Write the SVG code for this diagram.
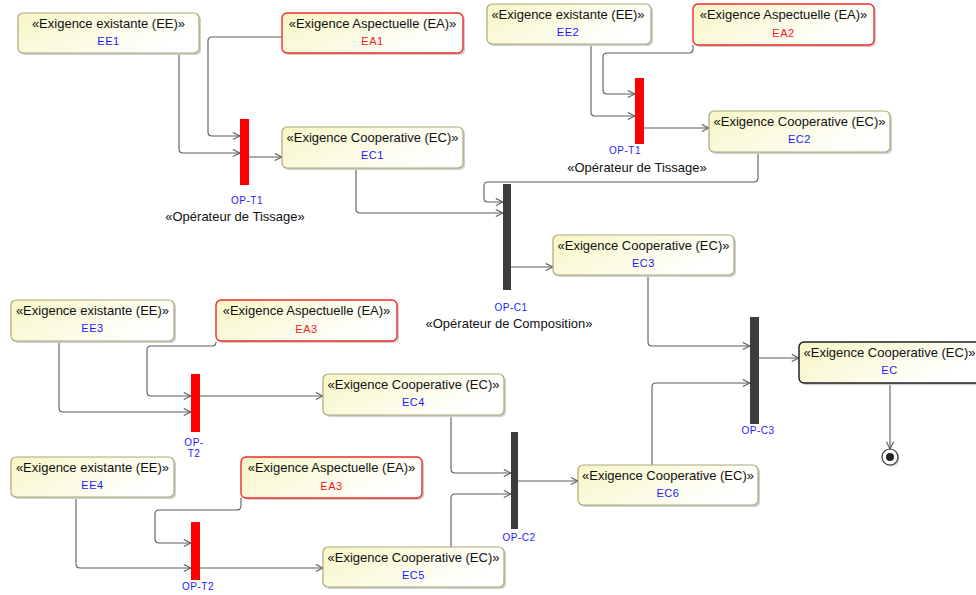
<svg xmlns="http://www.w3.org/2000/svg" width="976" height="595" viewBox="0 0 976 595">
<style>
.box{fill:url(#g);stroke:#aaa878;stroke-width:1.2}
.red{fill:url(#g);stroke:#ee2b2b;stroke-width:1.4}
.blk{fill:url(#g);stroke:#222;stroke-width:1.5}
.sh{fill:#cfcfcf}
.st{font-family:"Liberation Sans",Arial,sans-serif;font-size:13px;fill:#111;text-anchor:middle}
.nm{font-family:"Liberation Sans",Arial,sans-serif;font-size:11px;fill:#1a1aff;text-anchor:middle;letter-spacing:0.6px}
.nr{font-family:"Liberation Sans",Arial,sans-serif;font-size:11px;fill:#f01818;text-anchor:middle;letter-spacing:0.6px}
.op{font-family:"Liberation Sans",Arial,sans-serif;font-size:10px;fill:#1a1aff;text-anchor:middle;letter-spacing:0.5px}
.tb{fill:#ff0000}
.cb{fill:#3c3c3c}
.c path{fill:none;stroke:#5a5a5a;stroke-width:1.1;marker-end:url(#a)}
</style>
<defs>
<linearGradient id="g" x1="0" y1="0" x2="1" y2="0.4">
<stop offset="0" stop-color="#f8f6c6"/>
<stop offset="1" stop-color="#ffffff"/>
</linearGradient>
<marker id="a" viewBox="0 0 10 10" refX="9" refY="5" markerWidth="9" markerHeight="9" markerUnits="userSpaceOnUse" orient="auto">
<path d="M1,1 L9,5 L1,9" fill="none" stroke="#5a5a5a" stroke-width="1.2"/>
</marker>
</defs>
<rect width="976" height="595" fill="#fff"/>

<g id="connectors" class="c">
<path d="M179,53 V149 Q179,153 183,153 H240"/>
<path d="M282,37 H212 Q208,37 208,41 V132 Q208,136 212,136 H240"/>
<path d="M249,157 H282"/>
<path d="M591,44 V112 Q591,116 595,116 H635"/>
<path d="M693,45 V49 Q693,53 689,53 H607 Q603,53 603,57 V90 Q603,94 607,94 H635"/>
<path d="M644,128 H709"/>
<path d="M356,168 V209 Q356,213 360,213 H503"/>
<path d="M758,152 V178 Q758,182 754,182 H488 Q484,182 484,186 V198 Q484,202 488,202 H503"/>
<path d="M510,267 H553"/>
<path d="M59,341 V408 Q59,412 63,412 H191"/>
<path d="M216,342 Q216,346 212,346 H151 Q147,346 147,350 V392 Q147,396 151,396 H191"/>
<path d="M200,396 H323"/>
<path d="M76,497 V564 Q76,568 80,568 H191"/>
<path d="M241,498 V506 Q241,510 237,510 H159 Q155,510 155,514 V539 Q155,543 159,543 H191"/>
<path d="M200,568 H323"/>
<path d="M451,415 V469 Q451,473 455,473 H511"/>
<path d="M451,547 V498 Q451,494 455,494 H511"/>
<path d="M518,481 H578"/>
<path d="M648,275 V342 Q648,346 652,346 H750"/>
<path d="M652,465 V387 Q652,383 656,383 H750"/>
<path d="M759,358 H799"/>
<path d="M890,383 V449"/>
</g>

<g id="EE1"><rect class="sh" x="20" y="15" width="181" height="40" rx="5"/><rect class="box" x="18" y="13" width="181" height="40" rx="5"/><text class="st" x="108.5" y="28">«Exigence existante (EE)»</text><text class="nm" x="108.5" y="45">EE1</text></g>
<g id="EA1"><rect class="sh" x="284" y="15" width="181" height="40" rx="5"/><rect class="red" x="282" y="13" width="181" height="40" rx="5"/><text class="st" x="372.5" y="28">«Exigence Aspectuelle (EA)»</text><text class="nr" x="372.5" y="45">EA1</text></g>
<g id="EC1"><rect class="sh" x="284" y="129" width="181" height="41" rx="5"/><rect class="box" x="282" y="127" width="181" height="41" rx="5"/><text class="st" x="372.5" y="142">«Exigence Cooperative (EC)»</text><text class="nm" x="372.5" y="159">EC1</text></g>
<g id="EE2"><rect class="sh" x="489" y="6" width="164" height="40" rx="5"/><rect class="box" x="487" y="4" width="164" height="40" rx="5"/><text class="st" x="568" y="19">«Exigence existante (EE)»</text><text class="nm" x="568" y="36">EE2</text></g>
<g id="EA2"><rect class="sh" x="695" y="6" width="181" height="41" rx="5"/><rect class="red" x="693" y="4" width="181" height="41" rx="5"/><text class="st" x="783.5" y="19">«Exigence Aspectuelle (EA)»</text><text class="nr" x="783.5" y="37">EA2</text></g>
<g id="EC2"><rect class="sh" x="711" y="113" width="181" height="41" rx="5"/><rect class="box" x="709" y="111" width="181" height="41" rx="5"/><text class="st" x="799.5" y="126">«Exigence Cooperative (EC)»</text><text class="nm" x="799.5" y="143">EC2</text></g>
<g id="EC3"><rect class="sh" x="555" y="237" width="181" height="40" rx="5"/><rect class="box" x="553" y="235" width="181" height="40" rx="5"/><text class="st" x="643.5" y="250">«Exigence Cooperative (EC)»</text><text class="nm" x="643.5" y="267">EC3</text></g>
<g id="EE3"><rect class="sh" x="13" y="302" width="163" height="41" rx="5"/><rect class="box" x="11" y="300" width="163" height="41" rx="5"/><text class="st" x="92.5" y="315">«Exigence existante (EE)»</text><text class="nm" x="92.5" y="332">EE3</text></g>
<g id="EA3"><rect class="sh" x="218" y="302" width="181" height="41" rx="5"/><rect class="red" x="216" y="300" width="181" height="41" rx="5"/><text class="st" x="306.5" y="315">«Exigence Aspectuelle (EA)»</text><text class="nr" x="306.5" y="333">EA3</text></g>
<g id="EC4"><rect class="sh" x="325" y="376" width="181" height="41" rx="5"/><rect class="box" x="323" y="374" width="181" height="41" rx="5"/><text class="st" x="413.5" y="389">«Exigence Cooperative (EC)»</text><text class="nm" x="413.5" y="406">EC4</text></g>
<g id="EE4"><rect class="sh" x="13" y="459" width="163" height="40" rx="5"/><rect class="box" x="11" y="457" width="163" height="40" rx="5"/><text class="st" x="92.5" y="472">«Exigence existante (EE)»</text><text class="nm" x="92.5" y="489">EE4</text></g>
<g id="EA3b"><rect class="sh" x="243" y="459" width="181" height="41" rx="5"/><rect class="red" x="241" y="457" width="181" height="41" rx="5"/><text class="st" x="331.5" y="472">«Exigence Aspectuelle (EA)»</text><text class="nr" x="331.5" y="490">EA3</text></g>
<g id="EC5"><rect class="sh" x="325" y="549" width="181" height="40" rx="5"/><rect class="box" x="323" y="547" width="181" height="40" rx="5"/><text class="st" x="413.5" y="562">«Exigence Cooperative (EC)»</text><text class="nm" x="413.5" y="579">EC5</text></g>
<g id="EC6"><rect class="sh" x="580" y="467" width="180" height="40" rx="5"/><rect class="box" x="578" y="465" width="180" height="40" rx="5"/><text class="st" x="668" y="480">«Exigence Cooperative (EC)»</text><text class="nm" x="668" y="497">EC6</text></g>
<g id="EC"><rect class="sh" x="801" y="344" width="181" height="41" rx="5"/><rect class="blk" x="799" y="342" width="181" height="41" rx="5"/><text class="st" x="889.5" y="357">«Exigence Cooperative (EC)»</text><text class="nm" x="889.5" y="374">EC</text></g>

<g id="OP-T1a"><rect class="tb" x="240" y="119" width="9" height="66"/><text class="op" x="247" y="204">OP-T1</text><text class="st" x="235" y="221">«Opérateur de Tissage»</text></g>
<g id="OP-T1b"><rect class="tb" x="635" y="78" width="9" height="66"/><text class="op" x="625" y="154">OP-T1</text><text class="st" x="637" y="172">«Opérateur de Tissage»</text></g>
<g id="OP-C1"><rect class="cb" x="503" y="184" width="8" height="106"/><text class="op" x="511" y="311">OP-C1</text><text class="st" x="509" y="328">«Opérateur de Composition»</text></g>
<g id="OP-T2a"><rect class="tb" x="191" y="374" width="9" height="58"/><text class="op" x="194" y="446">OP-</text><text class="op" x="194" y="457">T2</text></g>
<g id="OP-T2b"><rect class="tb" x="191" y="522" width="9" height="58"/><text class="op" x="198" y="590">OP-T2</text></g>
<g id="OP-C2"><rect class="cb" x="511" y="432" width="7" height="97"/><text class="op" x="519" y="541">OP-C2</text></g>
<g id="OP-C3"><rect class="cb" x="750" y="317" width="9" height="107"/><text class="op" x="758" y="434">OP-C3</text></g>
<g id="final"><circle cx="891.5" cy="458.5" r="8" fill="#cfcfcf"/><circle cx="890" cy="457" r="8" fill="#fff" stroke="#333" stroke-width="1.2"/><circle cx="890" cy="457" r="4" fill="#222"/></g>
</svg>
